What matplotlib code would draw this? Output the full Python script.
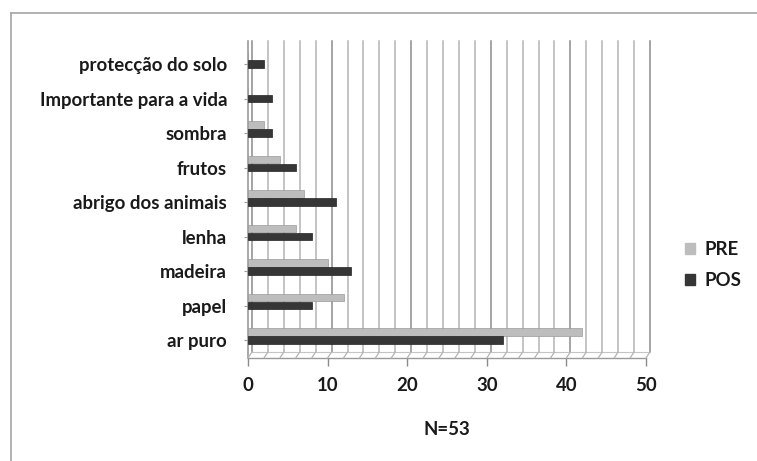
import matplotlib
matplotlib.use("Agg")
import matplotlib.pyplot as plt
from matplotlib.transforms import ScaledTranslation
from matplotlib.patches import Rectangle
from matplotlib.lines import Line2D
import numpy as np

categories = ["ar puro", "papel", "madeira", "lenha", "abrigo dos animais",
              "frutos", "sombra", "Importante para a vida", "protecção do solo"]
pre = [42, 12, 10, 6, 7, 4, 2, 0, 0]
pos = [32, 8, 13, 8, 11, 6, 3, 3, 2]
xticks = [0, 10, 20, 30, 40, 50]
xlabel = "N=53"
series_names = ["PRE", "POS"]

C_PRE = "#bdbdbd"
C_POS = "#363636"
FONT = "Lato"
FS = 13.4
TXT = "#1a1a1a"

W, H = 757, 461
fig = plt.figure(figsize=(W / 100, H / 100), dpi=100)
fig.patch.set_facecolor("white")

# outer chart border (left & top)
fig.add_artist(Line2D([11 / W, 11 / W], [0, 1 - 13 / H], transform=fig.transFigure,
                      color="#a6a6a6", lw=1.2))
fig.add_artist(Line2D([11 / W, 1], [1 - 13 / H, 1 - 13 / H], transform=fig.transFigure,
                      color="#a6a6a6", lw=1.2))

ax = fig.add_axes([248 / W, 1 - 358 / H, 398 / W, 317 / H])
ax.set_xlim(0, 50)
ax.set_ylim(-0.52, 8.67)
for s in ax.spines.values():
    s.set_visible(False)
ax.set_facecolor("none")

# 3D-like back wall gridlines
dx = 4 / 100
shift = ax.get_xaxis_transform() + ScaledTranslation(dx, 0, fig.dpi_scale_trans)
floor_y = 6 / 317
minor = np.arange(0, 51, 2)
for v in minor:
    major = (v % 10 == 0)
    col = "#8c8c8c" if major else "#b4b4b4"
    ax.plot([v, v], [floor_y, 1.0], transform=shift, color=col, lw=1.1, zorder=0,
            clip_on=False)
    # slanted floor segment
    ax.annotate("", xy=(v, 0), xycoords=ax.get_xaxis_transform(),
                xytext=(4, 6), textcoords="offset pixels",
                arrowprops=dict(arrowstyle="-", color="#b4b4b4", lw=0.9,
                                shrinkA=0, shrinkB=0), annotation_clip=False)
# left wall and floor edges
ax.plot([0, 0], [0, 1.0], transform=ax.get_xaxis_transform(), color="#9a9a9a", lw=1.2,
        zorder=1, clip_on=False)
ax.plot([0, 50], [0, 0], transform=ax.get_xaxis_transform(), color="#9a9a9a", lw=1.0,
        zorder=1, clip_on=False)
ax.plot([0, 50], [floor_y, floor_y], transform=shift, color="#c4c4c4", lw=0.8, zorder=0,
        clip_on=False)

y = np.arange(len(categories))
h = 0.22
ax.barh(y + 0.235, pre, height=h, color=C_PRE, edgecolor="#9a9a9a", lw=0.5, zorder=3,
        label=series_names[0])
ax.barh(y, pos, height=h, color=C_POS, edgecolor="#222222", lw=0.5, zorder=3,
        label=series_names[1])

ax.set_yticks(y)
ax.set_yticklabels(categories, fontfamily=FONT, fontsize=FS, fontweight="bold",
                   color=TXT)
ax.tick_params(axis="y", length=3, pad=12, color="#9a9a9a")
ax.set_xticks(xticks)
ax.set_xticklabels([str(t) for t in xticks], fontfamily=FONT, fontsize=FS,
                   fontweight="bold", color=TXT)
ax.tick_params(axis="x", length=6, pad=8, color="#8c8c8c", width=1.0)
ax.set_xlabel(xlabel, fontfamily=FONT, fontsize=FS, fontweight="bold", color=TXT,
              labelpad=19)

leg = fig.legend(handles=[Rectangle((0, 0), 1, 1, color=C_PRE),
                          Rectangle((0, 0), 1, 1, color=C_POS)],
                 labels=series_names, loc="center left",
                 bbox_to_anchor=(668 / W, 1 - 265 / H), frameon=False,
                 prop=dict(family=FONT, size=FS, weight="bold"),
                 handlelength=0.55, handleheight=0.55, handletextpad=0.5,
                 labelspacing=0.75)
for t in leg.get_texts():
    t.set_color(TXT)

fig.savefig("out.png", dpi=100)
